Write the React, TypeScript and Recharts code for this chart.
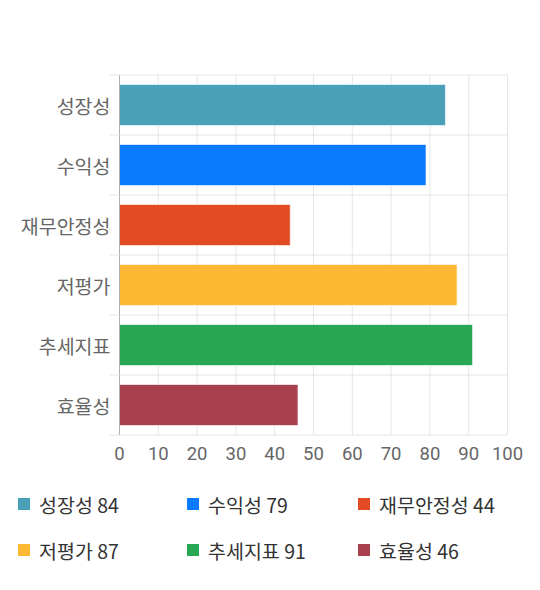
import { BarChart, Bar, XAxis, YAxis, CartesianGrid, Cell } from 'recharts';

const categories = ['성장성', '수익성', '재무안정성', '저평가', '추세지표', '효율성'];
const scores = [84, 79, 44, 87, 91, 46];
const colors = ['#4aa0b9', '#0a7bff', '#e24a24', '#fdb933', '#28a755', '#a8404d'];
const xTicks = [0, 10, 20, 30, 40, 50, 60, 70, 80, 90, 100];

const data = categories.map((name, i) => ({ name, score: scores[i] }));

const FONT = "'Noto Sans CJK KR', 'Noto Sans', sans-serif";

// category label plus the short band boundary stub left of the axis
const CategoryTick = (props: any) => {
  const { x, y, payload, index, height, visibleTicksCount } = props;
  const band = height / visibleTicksCount;
  return (
    <g>
      <line x1={x - 2} x2={x + 8} y1={y - band / 2} y2={y - band / 2} stroke="#e6e6e6" />
      {index === visibleTicksCount - 1 && (
        <line x1={x - 2} x2={x + 8} y1={y + band / 2} y2={y + band / 2} stroke="#e6e6e6" />
      )}
      <text x={x - 1} y={y} textAnchor="end" dominantBaseline="central" fill="#666" fontSize={19.5} fontFamily={FONT}>
        {payload.value}
      </text>
    </g>
  );
};

export default function App() {
  return (
    <div style={{ position: 'absolute', left: 0, top: 0, width: 540, height: 590, background: '#fff' }}>
      <BarChart
        width={540}
        height={590}
        data={data}
        layout="vertical"
        margin={{ top: 75, right: 32.5, bottom: 125, left: 0 }}
        barCategoryGap={9.5}
      >
        <CartesianGrid
          stroke="#e6e6e6"
          horizontalCoordinatesGenerator={({ offset }: any) =>
            categories.map((_, i) => offset.top + (i * offset.height) / categories.length).concat(offset.top + offset.height)
          }
        />
        <XAxis
          type="number"
          domain={[0, 100]}
          ticks={xTicks}
          axisLine={false}
          tickLine={false}
          tickMargin={6}
          tick={{ fill: '#666', fontSize: 18.5, fontFamily: 'Roboto, sans-serif' }}
          interval={0}
        />
        <YAxis
          type="category"
          dataKey="name"
          width={119.5}
          axisLine={{ stroke: '#b0b0b0' }}
          tickLine={false}
          tick={<CategoryTick />}
          interval={0}
        />
        <Bar dataKey="score" isAnimationActive={false} stroke="#ffffff" strokeOpacity={0.6} strokeWidth={1}>
          {data.map((d, i) => (
            <Cell key={d.name} fill={colors[i]} />
          ))}
        </Bar>
      </BarChart>
      <div
        style={{
          position: 'absolute',
          left: 18,
          top: 490,
          width: 520,
          display: 'grid',
          gridTemplateColumns: '169px 171px 170px',
          rowGap: 18,
          fontFamily: FONT,
          fontSize: 19.5,
          color: '#333',
        }}
      >
        {categories.map((name, i) => (
          <div key={name} style={{ display: 'flex', alignItems: 'center', height: 28 }}>
            <span style={{ width: 12, height: 12, background: colors[i], display: 'inline-block', marginRight: 9 }} />
            <span>{`${name} ${scores[i]}`}</span>
          </div>
        ))}
      </div>
    </div>
  );
}
